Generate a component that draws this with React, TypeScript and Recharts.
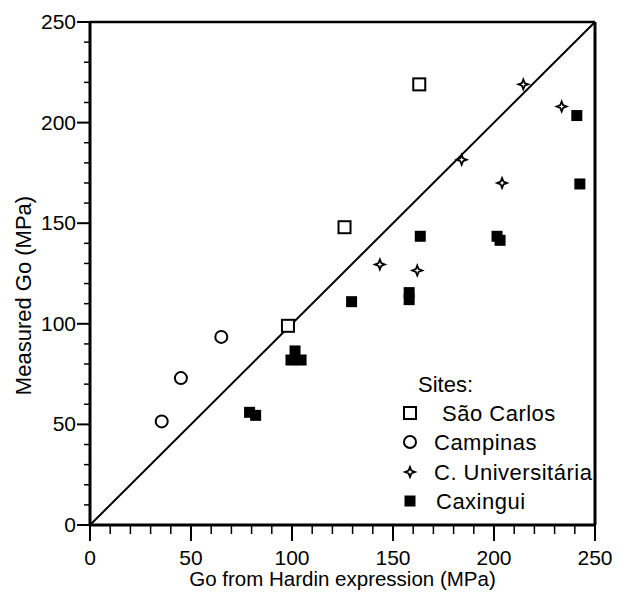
import React from 'react'
import { ScatterChart, Scatter, XAxis, YAxis, ReferenceLine } from 'recharts'

// values (MPa)
const saoCarlosX = [163, 126, 98]
const saoCarlosY = [219, 148, 99]

const campinasX = [65, 45, 35.5]
const campinasY = [93.5, 73, 51.5]

const univX = [214.5, 233.5, 184, 204, 143.5, 162]
const univY = [219, 208, 181.5, 170, 129.5, 126.5]

const caxinguiX = [241, 242.5, 163.5, 201.5, 203, 129.5, 158, 158, 101.5, 99.5, 104.5, 79, 82]
const caxinguiY = [203.5, 169.5, 143.5, 143.5, 141.5, 111, 115.5, 112, 86.5, 82, 82, 56, 54.5]

const ticks = [0, 10, 20, 30, 40, 50, 60, 70, 80, 90, 100, 110, 120, 130, 140, 150, 160, 170, 180, 190, 200, 210, 220, 230, 240, 250]

const toPoints = (xs: number[], ys: number[]) => xs.map((x, i) => ({ x, y: ys[i] }))

const FONT = '"Liberation Sans", Arial, sans-serif'

const XTick = (props: any) => {
  const { x, y, payload } = props
  const major = payload.value % 50 === 0
  return (
    <g>
      <line x1={x} x2={x} y1={y} y2={y + (major ? 16 : 9)} stroke="#000" strokeWidth={major ? 2 : 1.5} />
      {major && (
        <text x={x} y={y + 40} textAnchor="middle" fontSize={21} fontFamily={FONT} fill="#000">
          {payload.value}
        </text>
      )}
    </g>
  )
}

const YTick = (props: any) => {
  const { x, y, payload } = props
  const major = payload.value % 50 === 0
  return (
    <g>
      <line x1={x - (major ? 13 : 6)} x2={x} y1={y} y2={y} stroke="#000" strokeWidth={major ? 2 : 1.5} />
      {major && (
        <text x={x - 14} y={y + 7} textAnchor="end" fontSize={21} fontFamily={FONT} fill="#000">
          {payload.value}
        </text>
      )}
    </g>
  )
}

const YLabel = (props: any) => {
  const vb = props.viewBox
  const cx = 31
  const cy = vb.y + vb.height / 2 + 22
  return (
    <text x={cx} y={cy} transform={`rotate(-90, ${cx}, ${cy})`} textAnchor="middle" fontSize={22} fontFamily={FONT} fill="#000">
      Measured Go (MPa)
    </text>
  )
}

const OpenSquare = (p: any) => (
  <rect x={p.cx - 6} y={p.cy - 6} width={12} height={12} fill="#fff" stroke="#000" strokeWidth={2} />
)
const OpenCircle = (p: any) => <circle cx={p.cx} cy={p.cy} r={6} fill="#fff" stroke="#000" strokeWidth={2} />
const Star = (p: any) => (
  <path
    transform={`translate(${p.cx},${p.cy})`}
    d="M0,-5 L1.4,-1.4 L5,0 L1.4,1.4 L0,5 L-1.4,1.4 L-5,0 L-1.4,-1.4 Z"
    fill="#fff"
    stroke="#000"
    strokeWidth={1.8}
  />
)
const FilledSquare = (p: any) => <rect x={p.cx - 5.5} y={p.cy - 5.5} width={11} height={11} fill="#000" />

const legendRows = [
  { name: 'São Carlos', shape: OpenSquare, tx: 47 },
  { name: 'Campinas', shape: OpenCircle, tx: 39 },
  { name: 'C. Universitária', shape: Star, tx: 39 },
  { name: 'Caxingui', shape: FilledSquare, tx: 41 },
]
const legendRowY = [43, 72, 102, 131]

export default function App() {
  return (
    <div style={{ position: 'absolute', left: 0, top: 0, width: 627, height: 602, background: '#fff' }}>
      <ScatterChart width={627} height={602} margin={{ top: 22, right: 32, left: 0, bottom: 0 }}>
        <XAxis
          type="number"
          dataKey="x"
          domain={[0, 250]}
          ticks={ticks}
          interval={0}
          height={77}
          tickSize={0}
          tickMargin={0}
          tick={<XTick />}
          axisLine={{ stroke: '#000', strokeWidth: 3 }}
          label={{ value: 'Go from Hardin expression (MPa)', position: 'insideBottom', offset: 16, fontSize: 20.5, fontFamily: FONT, fill: '#000' }}
        />
        <YAxis
          type="number"
          dataKey="y"
          domain={[0, 250]}
          ticks={ticks}
          interval={0}
          width={90}
          tickSize={0}
          tickMargin={0}
          tick={<YTick />}
          axisLine={{ stroke: '#000', strokeWidth: 3 }}
          label={<YLabel />}
        />
        <ReferenceLine y={250} stroke="#000" strokeWidth={2.5} />
        <ReferenceLine x={250} stroke="#000" strokeWidth={3} />
        <ReferenceLine segment={[{ x: 0, y: 0 }, { x: 250, y: 250 }]} stroke="#000" strokeWidth={2} />
        <Scatter name="São Carlos" data={toPoints(saoCarlosX, saoCarlosY)} shape={OpenSquare} isAnimationActive={false} />
        <Scatter name="Campinas" data={toPoints(campinasX, campinasY)} shape={OpenCircle} isAnimationActive={false} />
        <Scatter name="C. Universitária" data={toPoints(univX, univY)} shape={Star} isAnimationActive={false} />
        <Scatter name="Caxingui" data={toPoints(caxinguiX, caxinguiY)} shape={FilledSquare} isAnimationActive={false} />
      </ScatterChart>
      <svg width={232} height={150} style={{ position: 'absolute', left: 395, top: 370 }}>
        <text x={23} y={22} fontSize={22} fontFamily={FONT} fill="#000">Sites:</text>
        {legendRows.map((r, i) => {
          const S = r.shape
          return (
            <g key={r.name}>
              <S cx={15} cy={legendRowY[i]} />
              <text x={r.tx} y={legendRowY[i] + 8} fontSize={22} letterSpacing={0.5} fontFamily={FONT} fill="#000">
                {r.name}
              </text>
            </g>
          )
        })}
      </svg>
    </div>
  )
}
